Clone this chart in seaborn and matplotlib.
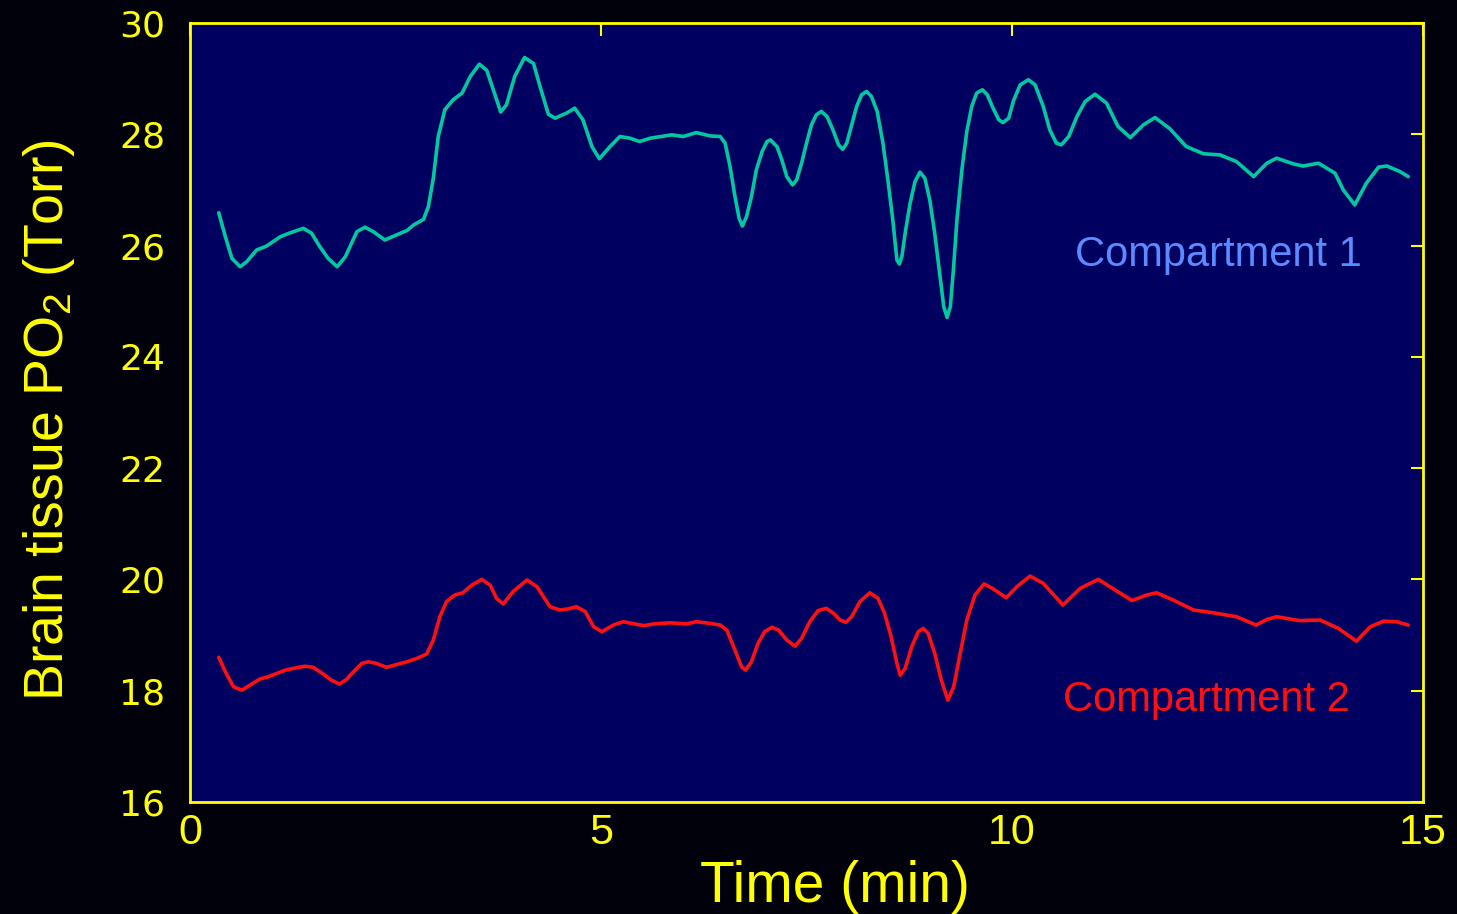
import matplotlib
matplotlib.use("Agg")
import matplotlib.pyplot as plt
import seaborn as sns
import pandas as pd

# Compartment 1 brain tissue PO2 (Torr) over time (min)
t1 = [0.35, 0.43, 0.51, 0.61, 0.69, 0.81, 0.93, 1.10, 1.22, 1.38, 1.48, 1.58, 1.68, 1.79,
      1.89, 2.03, 2.13, 2.23, 2.37,
      2.51, 2.64, 2.72, 2.84, 2.90, 2.96, 3.02, 3.10, 3.20, 3.31, 3.41, 3.52, 3.61,
      3.69, 3.78, 3.85, 3.95, 4.07, 4.18, 4.26, 4.36, 4.44, 4.58, 4.68, 4.78, 4.89,
      4.98, 5.11, 5.23, 5.35, 5.47, 5.60, 5.86, 6.00, 6.16, 6.33, 6.45, 6.51, 6.57,
      6.63, 6.68, 6.72, 6.77, 6.83, 6.89, 6.96, 7.02, 7.06, 7.14, 7.20, 7.26, 7.33,
      7.38, 7.44, 7.50, 7.56, 7.62, 7.68, 7.75, 7.83, 7.89, 7.94, 7.99, 8.05, 8.11,
      8.17, 8.23, 8.29, 8.36, 8.43, 8.49, 8.55, 8.60, 8.63, 8.66, 8.70, 8.76, 8.82,
      8.88, 8.94, 9.00, 9.06, 9.12, 9.17, 9.21, 9.25, 9.29, 9.33, 9.39, 9.45, 9.51,
      9.57, 9.64, 9.70, 9.76, 9.84, 9.89, 9.96, 10.02, 10.10, 10.20, 10.28, 10.38,
      10.46, 10.54, 10.60, 10.69, 10.79, 10.89, 11.01, 11.15, 11.29, 11.44, 11.60,
      11.74, 11.92, 12.12, 12.33, 12.53, 12.73, 12.94, 13.10, 13.22, 13.42, 13.54,
      13.73, 13.93, 14.03, 14.17, 14.31, 14.46, 14.56, 14.72, 14.82]
po2_1 = [26.59, 26.16, 25.77, 25.62, 25.71, 25.92, 25.99, 26.16, 26.23, 26.31, 26.22, 25.98, 25.77,
         25.62, 25.80, 26.25, 26.33, 26.25, 26.10,
         26.19, 26.27, 26.37, 26.47, 26.70, 27.21, 27.96, 28.44, 28.62, 28.74, 29.04, 29.26, 29.15,
         28.80, 28.40, 28.53, 29.04, 29.38, 29.27, 28.85, 28.36, 28.29, 28.38, 28.47, 28.26, 27.78,
         27.56, 27.78, 27.96, 27.93, 27.87, 27.93, 27.99, 27.96, 28.03, 27.97, 27.96, 27.84, 27.42,
         26.88, 26.49, 26.35, 26.52, 26.88, 27.36, 27.69, 27.87, 27.90, 27.78, 27.54, 27.24, 27.09,
         27.18, 27.48, 27.84, 28.17, 28.35, 28.41, 28.32, 28.05, 27.81, 27.73, 27.84, 28.17, 28.50,
         28.71, 28.77, 28.68, 28.41, 27.84, 27.18, 26.46, 25.74, 25.67, 25.80, 26.22, 26.76, 27.15,
         27.32, 27.21, 26.82, 26.22, 25.50, 24.90, 24.71, 24.90, 25.62, 26.46, 27.36, 28.05, 28.50,
         28.74, 28.80, 28.71, 28.50, 28.26, 28.21, 28.29, 28.61, 28.89, 28.98, 28.89, 28.50,
         28.08, 27.84, 27.81, 27.96, 28.32, 28.59, 28.72, 28.56, 28.14, 27.94, 28.17,
         28.30, 28.10, 27.78, 27.65, 27.63, 27.51, 27.24, 27.48, 27.57, 27.47, 27.43,
         27.48, 27.30, 27.00, 26.73, 27.12, 27.41, 27.43, 27.33, 27.24]

# Compartment 2 brain tissue PO2 (Torr) over time (min)
t2 = [0.35, 0.43, 0.53, 0.63, 0.73, 0.85, 0.95, 1.16, 1.32, 1.40, 1.50, 1.62, 1.72, 1.82,
      1.91, 1.95, 2.09, 2.17,
      2.27, 2.39, 2.51, 2.64, 2.76, 2.88, 2.96, 3.04, 3.12, 3.22, 3.32, 3.43, 3.55,
      3.65, 3.73, 3.81, 3.93, 4.10, 4.22, 4.38, 4.50, 4.60, 4.70, 4.81, 4.91, 5.01,
      5.15, 5.27, 5.52, 5.64, 5.84, 6.04, 6.16, 6.33, 6.45, 6.53, 6.63, 6.71, 6.76,
      6.83, 6.91, 6.99, 7.08, 7.16, 7.26, 7.36, 7.44, 7.54, 7.64, 7.74, 7.83, 7.91,
      7.98, 8.05, 8.15, 8.27, 8.37, 8.45, 8.53, 8.60, 8.64, 8.70, 8.78, 8.86, 8.92,
      8.98, 9.06, 9.14, 9.22, 9.29, 9.37, 9.45, 9.55, 9.66, 9.76, 9.85, 9.93,
      10.06, 10.22, 10.38, 10.62, 10.83, 11.05, 11.19, 11.46, 11.64, 11.76, 11.96,
      12.21, 12.45, 12.73, 12.97, 13.10, 13.22, 13.50, 13.75, 13.97, 14.19, 14.36,
      14.52, 14.68, 14.82]
po2_2 = [18.60, 18.34, 18.07, 18.01, 18.10, 18.21, 18.25, 18.37, 18.42, 18.44, 18.42, 18.30, 18.19,
         18.12, 18.21, 18.28, 18.49, 18.52,
         18.49, 18.42, 18.47, 18.52, 18.58, 18.66, 18.91, 19.33, 19.60, 19.72, 19.76, 19.90, 20.00,
         19.90, 19.66, 19.56, 19.78, 19.99, 19.87, 19.51, 19.45, 19.47, 19.51, 19.42, 19.15, 19.06,
         19.18, 19.24, 19.17, 19.20, 19.22, 19.20, 19.24, 19.21, 19.18, 19.09, 18.73, 18.43, 18.37,
         18.52, 18.85, 19.06, 19.14, 19.09, 18.91, 18.80, 18.94, 19.24, 19.44, 19.48, 19.39, 19.27,
         19.23, 19.33, 19.60, 19.76, 19.66, 19.39, 18.97, 18.49, 18.28, 18.40, 18.79, 19.06, 19.12,
         19.03, 18.67, 18.19, 17.83, 18.07, 18.67, 19.27, 19.72, 19.92, 19.84, 19.75, 19.67,
         19.87, 20.06, 19.93, 19.54, 19.84, 20.00, 19.87, 19.62, 19.72, 19.76, 19.63,
         19.45, 19.40, 19.33, 19.18, 19.28, 19.33, 19.26, 19.27, 19.12, 18.89, 19.15,
         19.25, 19.24, 19.18]

x_ticks = [0, 5, 10, 15]
y_ticks = [16, 18, 20, 22, 24, 26, 28, 30]
series_labels = ["Compartment 1", "Compartment 2"]

YELLOW = "#ffff00"
sns.set_style("white")
plt.rcParams["font.family"] = ["Liberation Sans", "DejaVu Sans"]
plt.rcParams["mathtext.fontset"] = "custom"
plt.rcParams["mathtext.rm"] = "Liberation Sans"

fig = plt.figure(figsize=(14.57, 9.14), dpi=100, facecolor="#01010c")
ax = fig.add_axes([190 / 1457, 1 - 802 / 914, 1233 / 1457, 779 / 914])
ax.set_facecolor("#000060")

df1 = pd.DataFrame({"t": t1, "po2": po2_1})
df2 = pd.DataFrame({"t": t2, "po2": po2_2})
sns.lineplot(data=df1, x="t", y="po2", ax=ax, color="#00c8a0", lw=2.6,
             sort=False, estimator=None, solid_joinstyle="round",
             solid_capstyle="round")
sns.lineplot(data=df2, x="t", y="po2", ax=ax, color="#ff1010", lw=2.6,
             sort=False, estimator=None, solid_joinstyle="round",
             solid_capstyle="round")

ax.set_xlim(0, 15)
ax.set_ylim(16, 30)
ax.set_xticks(x_ticks)
ax.set_yticks(y_ticks)
ax.set_xticklabels([str(v) for v in x_ticks], fontsize=31, color=YELLOW,
                   family="Liberation Sans")
ax.set_yticklabels([str(v) for v in y_ticks], fontsize=26, color=YELLOW,
                   family="DejaVu Sans")
ax.tick_params(axis="both", direction="in", length=9, width=1.5, color=YELLOW,
               top=True, right=True)
ax.tick_params(axis="y", pad=18)
ax.tick_params(axis="x", pad=8)
for sp in ax.spines.values():
    sp.set_color(YELLOW)
    sp.set_linewidth(2)

ax.set_xlabel("Time (min)", fontsize=41, color=YELLOW, labelpad=4)
ax.xaxis.set_label_coords((835 - 190) / 1233, -0.075)
ax.set_ylabel(r"Brain tissue PO$\mathregular{_2}$ (Torr)", fontsize=40,
              color=YELLOW)
ax.yaxis.set_label_coords(-0.092, 0.49)

ax.text(10.77, 25.83, series_labels[0], color="#5a8cff", fontsize=30,
        ha="left", va="center")
ax.text(10.62, 17.83, series_labels[1], color="#ff1010", fontsize=30,
        ha="left", va="center")

fig.savefig("out.png", dpi=100, facecolor=fig.get_facecolor())
